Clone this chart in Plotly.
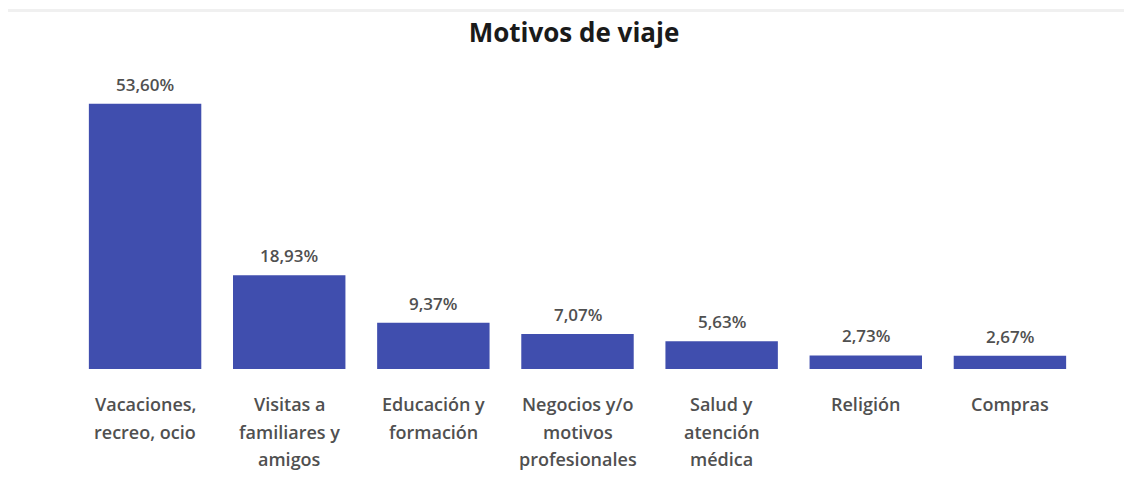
import plotly.graph_objects as go

categories = ["Vacaciones, recreo, ocio", "Visitas a familiares y amigos", "Educación y formación",
              "Negocios y/o motivos profesionales", "Salud y atención médica", "Religión", "Compras"]
label_lines = [["Vacaciones,", "recreo, ocio"], ["Visitas a", "familiares y", "amigos"],
               ["Educación y", "formación"], ["Negocios y/o", "motivos", "profesionales"],
               ["Salud y", "atención", "médica"], ["Religión"], ["Compras"]]
values = [53.60, 18.93, 9.37, 7.07, 5.63, 2.73, 2.67]
value_labels = [f"{v:.2f}%".replace(".", ",") for v in values]

FONT = "Open Sans"
fig = go.Figure(go.Bar(
    x=categories, y=values,
    marker=dict(color="#404EAE", line=dict(width=0)),
    cliponaxis=False, width=0.78,
))

annotations = []
for cat, v, lab in zip(categories, values, value_labels):
    annotations.append(dict(x=cat, xref="x", y=v, yref="y", yanchor="bottom", yshift=6,
                            text=lab, showarrow=False,
                            font=dict(family=FONT, size=17, color="#505050", weight=600)))
for cat, lines in zip(categories, label_lines):
    for i, ln in enumerate(lines):
        annotations.append(dict(x=cat, xref="x", y=0, yref="paper", yanchor="middle",
                                yshift=-(35 + 27.5 * i), text=ln, showarrow=False,
                                font=dict(family=FONT, size=18, color="#505050", weight=600)))

W, H = 1132, 478
ml, mr, mt, mb = 65, 58, 72, 117
ph = H - mt - mb
fig.update_layout(
    width=W, height=H,
    margin=dict(l=ml, r=mr, t=mt, b=mb),
    paper_bgcolor="white", plot_bgcolor="white",
    title=dict(text="<b>Motivos de viaje</b>", x=0.5, xanchor="center", y=1 - 25 / H, yanchor="middle",
               font=dict(family=FONT, size=26, color="#1a1a1a")),
    xaxis=dict(showticklabels=False, showgrid=False, zeroline=False, showline=False),
    yaxis=dict(visible=False, range=[0, 58.4]),
    annotations=annotations,
    showlegend=False,
    shapes=[dict(type="rect", xref="paper", yref="paper", x0=-ml / (W - ml - mr), x1=1 + mr / (W - ml - mr),
                 y0=1 + (mt - 4) / ph, y1=1 + (mt - 1) / ph, fillcolor="#f0f0f0", line=dict(width=0))],
)
fig.write_html("out.html")
